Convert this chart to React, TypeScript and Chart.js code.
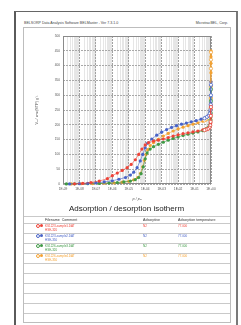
import React, { useEffect, useRef } from 'react';
import { Chart, registerables } from 'chart.js';

Chart.register(...registerables);

const FONT = "'Liberation Sans', Arial, sans-serif";

const RED = '#ee4338';
const BLUE = '#4863c8';
const GREEN = '#3f9a46';
const ORANGE = '#f4a232';

// Adsorption branches (p/p0, Va)
const redAdsP = [5.0e-9, 1.6e-8, 5.0e-8, 1.6e-7, 5.0e-7, 1.0e-6, 2.0e-6, 4.0e-6, 8.0e-6, 1.4e-5, 2.5e-5, 4.0e-5, 6.3e-5, 1.0e-4, 1.6e-4, 3.2e-4, 6.3e-4, 1.26e-3, 2.5e-3, 5.0e-3, 1.0e-2, 2.0e-2, 4.0e-2, 8.0e-2, 0.16, 0.32, 0.5, 0.7, 0.85, 0.93, 0.965, 0.984, 0.993, 0.998];
const redAdsV = [0.5, 2, 5, 10, 18, 28, 37, 46, 55, 66, 82, 100, 118, 132, 140, 145, 148, 152, 157, 162, 166, 170, 173, 176, 179, 183, 186, 190, 196, 205, 218, 235, 252, 268];

const blueAdsP = [2.5e-9, 1e-8, 3.2e-8, 1e-7, 3.2e-7, 1e-6, 2.5e-6, 6.3e-6, 1.26e-5, 2e-5, 3.2e-5, 5e-5, 7e-5, 1e-4, 1.4e-4, 2.5e-4, 5e-4, 1e-3, 2e-3, 4e-3, 8e-3, 1.6e-2, 3.2e-2, 6.3e-2, 0.126, 0.25, 0.4, 0.63, 0.8, 0.89, 0.955, 0.977, 0.989, 0.995, 0.998];
const blueAdsV = [0.3, 1, 2, 4, 7, 11, 16, 22, 30, 40, 55, 78, 100, 122, 138, 152, 165, 175, 184, 191, 197, 202, 206, 210, 214, 219, 223, 229, 236, 245, 258, 275, 295, 320, 345];

const greenAdsP = [1.6e-9, 5e-9, 3.2e-8, 1.6e-7, 6.3e-7, 2e-6, 5e-6, 1.26e-5, 2.5e-5, 4e-5, 5.6e-5, 7.6e-5, 1e-4, 1.3e-4, 2e-4, 3.2e-4, 6.3e-4, 1.26e-3, 2.5e-3, 5e-3, 1e-2, 2e-2, 4e-2, 8e-2, 0.16, 0.32, 0.5, 0.7, 0.85, 0.93, 0.965, 0.984, 0.993, 0.998];
const greenAdsV = [0.3, 0.6, 1, 2, 3, 5, 7, 10, 15, 22, 35, 58, 85, 105, 118, 126, 134, 141, 148, 154, 159, 164, 168, 172, 176, 180, 184, 189, 196, 208, 225, 250, 285, 330];

const orangeAdsP = [3.2e-9, 1.26e-8, 6.3e-8, 3.2e-7, 1.26e-6, 4e-6, 1e-5, 2e-5, 3.5e-5, 5.2e-5, 7e-5, 8.9e-5, 1.12e-4, 1.4e-4, 2e-4, 3.2e-4, 6.3e-4, 1.26e-3, 2.5e-3, 5e-3, 1e-2, 2e-2, 4e-2, 8e-2, 0.16, 0.32, 0.5, 0.7, 0.85, 0.93, 0.965, 0.982, 0.989, 0.993, 0.995, 0.997, 0.9985, 0.9993];
const orangeAdsV = [0.3, 0.8, 1.5, 2.5, 4, 6, 9, 14, 22, 36, 58, 80, 100, 116, 130, 140, 151, 162, 171, 179, 186, 192, 197, 202, 207, 212, 217, 223, 232, 245, 265, 290, 318, 346, 376, 408, 430, 450];

// Desorption branches
const redDesP = [0.995, 0.98, 0.95, 0.9, 0.8, 0.65, 0.5, 0.4];
const redDesV = [260, 230, 210, 198, 190, 186, 184, 182];
const blueDesP = [0.997, 0.99, 0.97, 0.93, 0.85, 0.7, 0.55, 0.4];
const blueDesV = [335, 300, 268, 250, 238, 230, 226, 222];
const greenDesP = [0.997, 0.99, 0.97, 0.93, 0.85, 0.7, 0.55, 0.4];
const greenDesV = [320, 280, 240, 215, 198, 190, 186, 182];
const orangeDesP = [0.9995, 0.998, 0.995, 0.99, 0.98, 0.95, 0.9, 0.8, 0.65, 0.5, 0.4];
const orangeDesV = [445, 420, 390, 330, 290, 255, 238, 228, 222, 218, 215];

const xMajorTicks = [1e-9, 1e-8, 1e-7, 1e-6, 1e-5, 1e-4, 1e-3, 1e-2, 1e-1, 1];
const xTickLabels = ['1E-09', '1E-08', '1E-07', '1E-06', '1E-05', '1E-04', '1E-03', '1E-02', '1E-01', '1E+00'];
const minorMultipliers = [2, 3, 4, 5, 6, 7, 8, 9];

const fileNames = ['KS1223-sample1.DAT', 'KS1223-sample2.DAT', 'KS1226-sample3.DAT', 'KS1226-sample4.DAT'];
const comments = ['HSE-320', 'HSE-350', 'HSE-320', 'HSE-350'];
const adsorptives = ['N2', 'N2', 'N2', 'N2'];
const temperatures = ['77.000', '77.000', '77.000', '77.000'];
const rowColors = [RED, BLUE, GREEN, ORANGE];

const toPts = (p: number[], v: number[]) => p.map((x, i) => ({ x, y: v[i] }));

const isMajorVal = (v: number) => xMajorTicks.some((m) => Math.abs(Math.log10(m) - Math.log10(v)) < 1e-6);

const frame = {
  id: 'frame',
  beforeDatasetsDraw(chart: any) {
    const { ctx, chartArea } = chart;
    const { left, top, right, bottom } = chartArea;
    ctx.save();
    ctx.strokeStyle = '#8a8a8a';
    ctx.lineWidth = 1;
    ctx.strokeRect(Math.round(left) + 0.5, Math.round(top) + 0.5, Math.round(right - left) - 1, Math.round(bottom - top) - 1);
    ctx.restore();
  },
};

function ds(label: string, p: number[], v: number[], color: string, open: boolean) {
  return {
    label,
    data: toPts(p, v),
    showLine: true,
    borderColor: color,
    borderWidth: 0.6,
    backgroundColor: color,
    pointBackgroundColor: open ? '#ffffff' : color,
    pointBorderColor: color,
    pointBorderWidth: open ? 0.8 : 0,
    pointRadius: 1.6,
    clip: false as any,
  };
}

function IsothermChart() {
  const ref = useRef<HTMLCanvasElement | null>(null);
  useEffect(() => {
    if (!ref.current) return;
    const allTicks: number[] = [];
    xMajorTicks.forEach((m, i) => {
      allTicks.push(m);
      if (i < xMajorTicks.length - 1) minorMultipliers.forEach((k) => allTicks.push(k * m));
    });
    const chart = new Chart(ref.current, {
      type: 'scatter',
      data: {
        datasets: [
          ds('red des', redDesP, redDesV, RED, true),
          ds('blue des', blueDesP, blueDesV, BLUE, true),
          ds('green des', greenDesP, greenDesV, GREEN, true),
          ds('orange des', orangeDesP, orangeDesV, ORANGE, true),
          ds('red ads', redAdsP, redAdsV, RED, false),
          ds('blue ads', blueAdsP, blueAdsV, BLUE, false),
          ds('green ads', greenAdsP, greenAdsV, GREEN, false),
          ds('orange ads', orangeAdsP, orangeAdsV, ORANGE, false),
        ] as any,
      },
      options: {
        animation: false,
        responsive: false,
        devicePixelRatio: 1,
        layout: { padding: { left: 0, right: 19, top: 8, bottom: 0 } },
        plugins: { legend: { display: false }, tooltip: { enabled: false } },
        scales: {
          x: {
            type: 'logarithmic',
            min: 1e-9,
            max: 1,
            afterBuildTicks: (scale: any) => {
              scale.ticks = allTicks.map((v) => ({ value: v, major: isMajorVal(v) }));
            },
            afterFit: (scale: any) => {
              scale.height = 24;
            },
            ticks: {
              autoSkip: false,
              maxRotation: 0,
              minRotation: 0,
              padding: 3,
              color: '#555',
              font: { family: FONT, size: 3.2 },
              callback: (value: any) => {
                const i = xMajorTicks.findIndex((m) => Math.abs(Math.log10(m) - Math.log10(Number(value))) < 1e-6);
                return i >= 0 ? xTickLabels[i] : '';
              },
            },
            grid: {
              drawTicks: false,
              lineWidth: 1,
              color: (ctx: any) => (ctx.tick && ctx.tick.major ? '#a0a0a0' : '#e6e6e6'),
            },
            border: {
              display: false,
              dash: (ctx: any) => (ctx.tick && ctx.tick.major ? [2, 1] : []),
            } as any,
            title: {
              display: true,
              text: 'p / p₀',
              color: '#444',
              font: { family: FONT, size: 3.8, style: 'italic' },
              padding: { top: 0, bottom: 6.5 },
            },
          },
          y: {
            min: 0,
            max: 500,
            afterFit: (scale: any) => {
              scale.width = 40;
            },
            ticks: {
              stepSize: 50,
              padding: 3,
              color: '#555',
              font: { family: FONT, size: 3.2 },
            },
            grid: { drawTicks: false, lineWidth: 1, color: '#a8a8a8' },
            border: { display: false, dash: [2, 1] } as any,
            title: {
              display: true,
              text: 'Vₐ / cm³(STP) g⁻¹',
              color: '#444',
              font: { family: FONT, size: 3.8 },
              padding: { top: 11.5, bottom: 0 },
            },
          },
        },
      },
      plugins: [frame],
    } as any);
    return () => chart.destroy();
  }, []);
  return (
    <canvas
      ref={ref}
      width={207}
      height={180}
      style={{ position: 'absolute', left: 23, top: 28, width: 207, height: 180 }}
    />
  );
}

export default function App() {
  const rowLines: number[] = [216, 223, 233, 243, 253, 263, 273, 283, 293, 303, 313];
  return (
    <div style={{ position: 'absolute', left: 0, top: 0, width: 241, height: 325, overflow: 'hidden', background: '#fff', fontFamily: FONT }}>
      <div style={{ position: 'absolute', left: 14, top: 11, width: 220, height: 400, borderLeft: '2px solid #5a5a5a', borderTop: '1px solid #666', borderRight: '2px solid #7a7a7a' }} />
      <div style={{ position: 'absolute', left: 24, top: 20.5, fontSize: 3.6, color: '#444', whiteSpace: 'nowrap', lineHeight: '4px' }}>
        BELSORP Data Analysis Software BELMaster - Ver 7.3.1.0
      </div>
      <div style={{ position: 'absolute', right: 13, top: 20.5, fontSize: 3.6, color: '#444', whiteSpace: 'nowrap', lineHeight: '4px' }}>
        MicrotracBEL, Corp.
      </div>
      <div style={{ position: 'absolute', left: 23, top: 27, width: 206, height: 294, border: '1px solid #bdbdbd' }} />
      <IsothermChart />
      <div style={{ position: 'absolute', left: 23, width: 207, top: 204, textAlign: 'center', fontSize: 8, color: '#222', lineHeight: '10px', whiteSpace: 'nowrap' }}>
        Adsorption / desorption isotherm
      </div>
      {rowLines.map((y, i) => (
        <div key={i} style={{ position: 'absolute', left: 24, width: 206, top: y, height: 1, background: '#c9c9c9' }} />
      ))}
      <div style={{ position: 'absolute', left: 45, top: 217.5, fontSize: 3.6, color: '#333', lineHeight: '4px', whiteSpace: 'nowrap' }}>Filename&nbsp;&nbsp;Comment</div>
      <div style={{ position: 'absolute', left: 143, top: 217.5, fontSize: 3.6, color: '#333', lineHeight: '4px', whiteSpace: 'nowrap' }}>Adsorptive</div>
      <div style={{ position: 'absolute', left: 178, top: 217.5, fontSize: 3.6, color: '#333', lineHeight: '4px', whiteSpace: 'nowrap' }}>Adsorption temperature</div>
      {fileNames.map((f, i) => {
        const top = 223 + 10 * i;
        const c = rowColors[i];
        return (
          <React.Fragment key={f}>
            <div style={{ position: 'absolute', left: 35.5, top: top + 1, width: 2, height: 2, borderRadius: '50%', border: `0.8px solid ${c}`, background: '#fff' }} />
            <div style={{ position: 'absolute', left: 40, top: top + 1.2, width: 3, height: 3, borderRadius: '50%', background: c }} />
            <div style={{ position: 'absolute', left: 45, top: top + 0.8, fontSize: 3, color: c, lineHeight: '4px', whiteSpace: 'nowrap' }}>{f}</div>
            <div style={{ position: 'absolute', left: 45, top: top + 4.8, fontSize: 3, color: c, lineHeight: '4px', whiteSpace: 'nowrap' }}>{comments[i]}</div>
            <div style={{ position: 'absolute', left: 143, top: top + 0.8, fontSize: 3, color: c, lineHeight: '4px', whiteSpace: 'nowrap' }}>{adsorptives[i]}</div>
            <div style={{ position: 'absolute', left: 178, top: top + 0.8, fontSize: 3, color: c, lineHeight: '4px', whiteSpace: 'nowrap' }}>{temperatures[i]}</div>
          </React.Fragment>
        );
      })}
    </div>
  );
}
